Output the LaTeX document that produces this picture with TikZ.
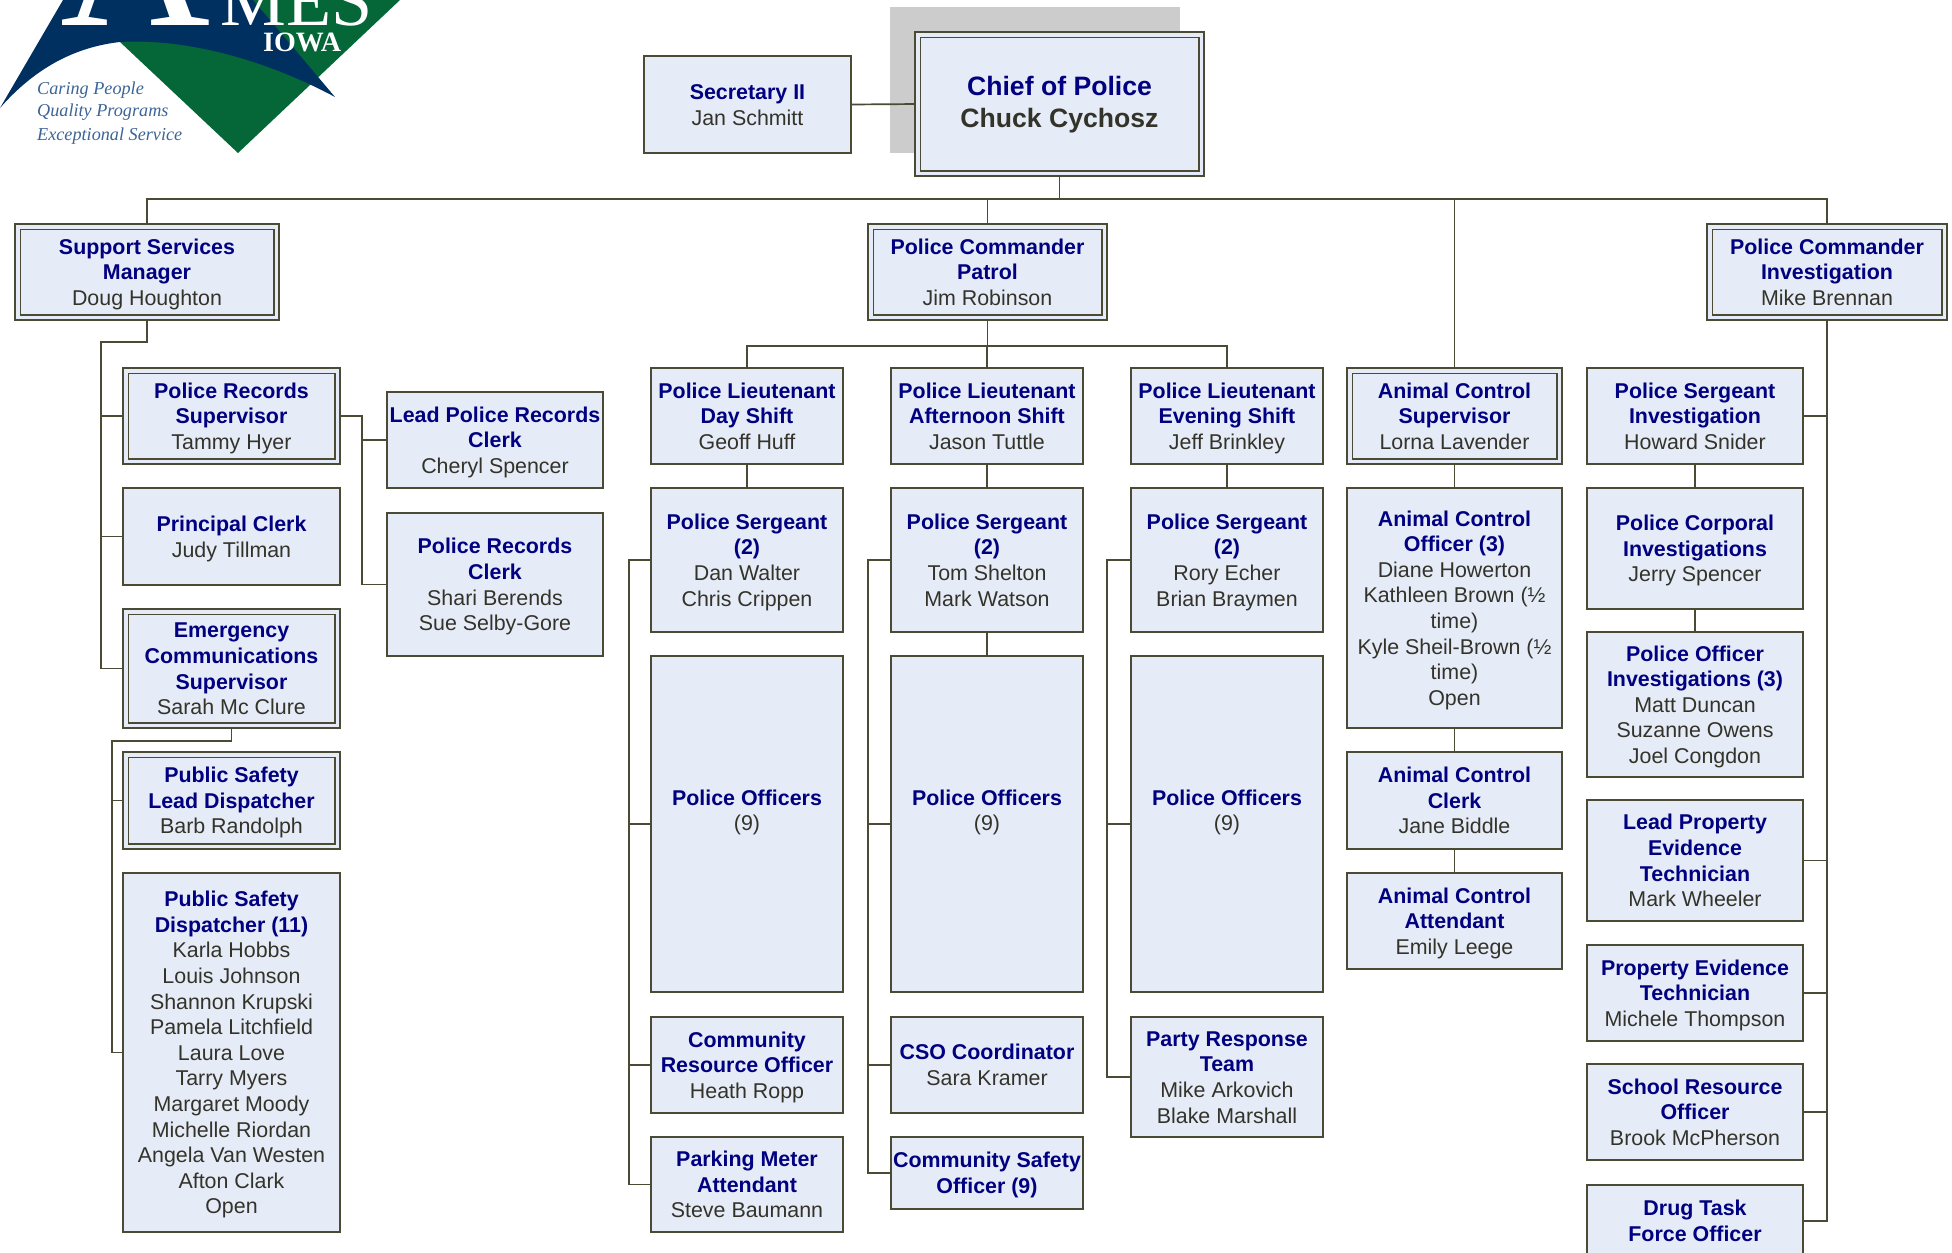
\documentclass[tikz,border=0pt]{standalone}
\usepackage{fontspec}
\setmainfont{Liberation Sans}
\newfontfamily\logofont{Liberation Serif}
\usetikzlibrary{backgrounds}
\definecolor{titlecol}{HTML}{000080}
\definecolor{namecol}{HTML}{33332A}
\definecolor{linecol}{HTML}{4A4A35}
\definecolor{boxfill}{HTML}{E6ECF7}
\definecolor{shadowcol}{HTML}{CCCCCC}
\definecolor{logoblue}{HTML}{003060}
\definecolor{logogreen}{HTML}{056637}
\definecolor{logotext}{HTML}{3C6496}
\newcommand\ti[1]{{\bfseries\color{titlecol}#1}}
\newcommand\topstrut{\rule{0pt}{21pt}}
\newcommand\botstrut{\rule[-5.5pt]{0pt}{1pt}}
\newcommand\chieffont{\fontsize{26.6}{32}\selectfont\bfseries}
\tikzset{
  box/.style={draw=linecol,line width=1.7pt,fill=boxfill,rectangle,inner sep=0pt,outer sep=0pt,
    align=center,text=namecol,font=\fontsize{21.4}{25.6}\selectfont},
  dbl/.style={box,double=boxfill,double distance=3.4pt},
  conn/.style={draw=linecol,line width=1.7pt,line join=miter},
  logotag/.style={anchor=base west,inner sep=0pt,text=logotext,font=\logofont\itshape\fontsize{18.2}{22}\selectfont},
}
\newcommand\orgbox[6]{\node[box,minimum width={(#4-#2)*1pt},minimum height={(#5-#3)*1pt}] (#1) at ({(#2+#4)/2},{(#3+#5)/2}) {\topstrut#6\botstrut};}
\newcommand\dblbox[6]{\node[dbl,minimum width={(#4-#2-5.6)*1pt},minimum height={(#5-#3-5.6)*1pt}] (#1) at ({(#2+#4)/2},{(#3+#5)/2}) {\topstrut#6\botstrut};}
\begin{document}
\begin{tikzpicture}[x=1pt,y=-1pt]
\useasboundingbox (0,0) rectangle (1952,1253);
\clip (0,0) rectangle (1952,1253);
% logo
\fill[logogreen] (120,42) -- (238,153) -- (400,0) -- (253,0) -- cycle;
\fill[logoblue] (0,108) -- (63,0) -- (253,0) -- (335,97)
  .. controls (270,62) and (190,38) .. (120,42)
  .. controls (75,47) and (35,68) .. (0,108) -- cycle;
\node[anchor=base west,inner sep=0pt,text=white,font=\logofont] (logoA) at (60,25) {\fontsize{208}{208}\selectfont A\hspace{10pt}\fontsize{74}{74}\selectfont MES};
\node[anchor=base west,inner sep=0pt,text=white,font=\logofont\bfseries\fontsize{28}{28}\selectfont] (logoI) at (263,51) {IOWA};
\node[logotag] (tag1) at (37,94) {Caring People};
\node[logotag] (tag2) at (37,116) {Quality Programs};
\node[logotag] (tag3) at (37,140) {Exceptional Service};
% boxes
\dblbox{chief}{915}{32}{1204}{176}{\chieffont\ti{Chief of Police}\\[6.4pt]\chieffont Chuck Cychosz}
\orgbox{sec}{644}{56}{851}{153}{\ti{Secretary II}\\Jan Schmitt}
\dblbox{support}{15}{224}{279}{320}{\ti{Support Services}\\\ti{Manager}\\Doug Houghton}
\dblbox{patrol}{868}{224}{1107}{320}{\ti{Police Commander}\\\ti{Patrol}\\Jim Robinson}
\dblbox{invest}{1707}{224}{1947}{320}{\ti{Police Commander}\\\ti{Investigation}\\Mike Brennan}
% support services
\dblbox{recsup}{123}{368}{340}{464}{\ti{Police Records}\\\ti{Supervisor}\\Tammy Hyer}
\orgbox{princ}{123}{488}{340}{585}{\ti{Principal Clerk}\\Judy Tillman}
\dblbox{emerg}{123}{609}{340}{728}{\ti{Emergency}\\\ti{Communications}\\\ti{Supervisor}\\Sarah Mc Clure}
\dblbox{leaddisp}{123}{752}{340}{849}{\ti{Public Safety}\\\ti{Lead Dispatcher}\\Barb Randolph}
\orgbox{disp}{123}{873}{340}{1232}{\ti{Public Safety}\\\ti{Dispatcher (11)}\\Karla Hobbs\\Louis Johnson\\Shannon Krupski\\Pamela Litchfield\\Laura Love\\Tarry Myers\\Margaret Moody\\Michelle Riordan\\Angela Van Westen\\Afton Clark\\Open}
\orgbox{leadrec}{387}{392}{603}{488}{\ti{Lead Police Records}\\\ti{Clerk}\\Cheryl Spencer}
\orgbox{recclerk}{387}{513}{603}{656}{\ti{Police Records}\\\ti{Clerk}\\Shari Berends\\Sue Selby-Gore}
% day shift
\orgbox{ltday}{651}{368}{843}{464}{\ti{Police Lieutenant}\\\ti{Day Shift}\\Geoff Huff}
\orgbox{sgtday}{651}{488}{843}{632}{\ti{Police Sergeant}\\\ti{(2)}\\Dan Walter\\Chris Crippen}
\orgbox{offday}{651}{656}{843}{992}{\ti{Police Officers}\\(9)\\\strut}
\orgbox{comres}{651}{1017}{843}{1113}{\ti{Community}\\\ti{Resource Officer}\\Heath Ropp}
\orgbox{parking}{651}{1137}{843}{1232}{\ti{Parking Meter}\\\ti{Attendant}\\Steve Baumann}
% afternoon shift
\orgbox{ltaft}{891}{368}{1083}{464}{\ti{Police Lieutenant}\\\ti{Afternoon Shift}\\Jason Tuttle}
\orgbox{sgtaft}{891}{488}{1083}{632}{\ti{Police Sergeant}\\\ti{(2)}\\Tom Shelton\\Mark Watson}
\orgbox{offaft}{891}{656}{1083}{992}{\ti{Police Officers}\\(9)\\\strut}
\orgbox{cso}{891}{1017}{1083}{1113}{\ti{CSO Coordinator}\\Sara Kramer}
\orgbox{comsafe}{891}{1137}{1083}{1209}{\ti{Community Safety}\\\ti{Officer (9)}}
% evening shift
\orgbox{lteve}{1131}{368}{1323}{464}{\ti{Police Lieutenant}\\\ti{Evening Shift}\\Jeff Brinkley}
\orgbox{sgteve}{1131}{488}{1323}{632}{\ti{Police Sergeant}\\\ti{(2)}\\Rory Echer\\Brian Braymen}
\orgbox{offeve}{1131}{656}{1323}{992}{\ti{Police Officers}\\(9)\\\strut}
\orgbox{party}{1131}{1017}{1323}{1137}{\ti{Party Response}\\\ti{Team}\\Mike Arkovich\\Blake Marshall}
% animal control
\dblbox{acsup}{1347}{368}{1562}{464}{\ti{Animal Control}\\\ti{Supervisor}\\Lorna Lavender}
\orgbox{acoff}{1347}{488}{1562}{728}{\ti{Animal Control}\\\ti{Officer (3)}\\Diane Howerton\\Kathleen Brown (½\\time)\\Kyle Sheil-Brown (½\\time)\\Open}
\orgbox{acclerk}{1347}{752}{1562}{849}{\ti{Animal Control}\\\ti{Clerk}\\Jane Biddle}
\orgbox{acatt}{1347}{873}{1562}{969}{\ti{Animal Control}\\\ti{Attendant}\\Emily Leege}
% investigation
\orgbox{sgtinv}{1587}{368}{1803}{464}{\ti{Police Sergeant}\\\ti{Investigation}\\Howard Snider}
\orgbox{corp}{1587}{488}{1803}{609}{\ti{Police Corporal}\\\ti{Investigations}\\Jerry Spencer}
\orgbox{poinv}{1587}{632}{1803}{777}{\ti{Police Officer}\\\ti{Investigations (3)}\\Matt Duncan\\Suzanne Owens\\Joel Congdon}
\orgbox{leadprop}{1587}{800}{1803}{921}{\ti{Lead Property}\\\ti{Evidence}\\\ti{Technician}\\Mark Wheeler}
\orgbox{propev}{1587}{945}{1803}{1041}{\ti{Property Evidence}\\\ti{Technician}\\Michele Thompson}
\orgbox{school}{1587}{1064}{1803}{1160}{\ti{School Resource}\\\ti{Officer}\\Brook McPherson}
\orgbox{drug}{1587}{1185}{1803}{1282}{\ti{Drug Task}\\\ti{Force Officer}\\}
% named junctions
\coordinate (busTop) at (1059,199);
\coordinate (supTr) at (101,342);
\coordinate (recTr) at (362,440);
\coordinate (dispTr) at (112,741);
\coordinate (patBus) at (988,346);
\coordinate (dayTr) at (629,560);
\coordinate (aftTr) at (868,560);
\coordinate (eveTr) at (1107,560);
\coordinate (drugJ) at (1803,1221);
\begin{pgfonlayer}{background}
\fill[shadowcol] (890,7) rectangle (1180,153);
\draw[conn] (sec.east) -- (chief.west);
\draw[conn] (chief.south) -- (chief.south |- busTop);
\draw[conn] (support.north) |- (busTop) -| (invest.north);
\draw[conn] (patrol.north) -- (patrol.north |- busTop);
\draw[conn] (acsup.north) -- (acsup.north |- busTop);
% support services
\draw[conn] (support.south) |- (supTr) |- (emerg.west);
\draw[conn] (recsup.west) -- (supTr |- recsup.west);
\draw[conn] (princ.west) -- (supTr |- princ.west);
\draw[conn] (recsup.east) -| (recTr) |- (recclerk.west);
\draw[conn] (leadrec.west) -- (recTr |- leadrec.west);
\draw[conn] (emerg.south) |- (dispTr) |- (disp.west);
\draw[conn] (leaddisp.west) -- (dispTr |- leaddisp.west);
% patrol
\draw[conn] (patrol.south) -- (patrol.south |- patBus);
\draw[conn] (ltday.north) |- (patBus) -| (lteve.north);
\draw[conn] (ltaft.north) -- (ltaft.north |- patBus);
\draw[conn] (ltday.south) -- (sgtday.north);
\draw[conn] (ltaft.south) -- (sgtaft.north);
\draw[conn] (lteve.south) -- (sgteve.north);
\draw[conn] (sgtaft.south) -- (offaft.north);
\draw[conn] (sgtday.west) -| (dayTr) |- (parking.west);
\draw[conn] (offday.west) -- (dayTr |- offday.west);
\draw[conn] (comres.west) -- (dayTr |- comres.west);
\draw[conn] (sgtaft.west) -| (aftTr) |- (comsafe.west);
\draw[conn] (offaft.west) -- (aftTr |- offaft.west);
\draw[conn] (cso.west) -- (aftTr |- cso.west);
\draw[conn] (sgteve.west) -| (eveTr) |- (party.west);
\draw[conn] (offeve.west) -- (eveTr |- offeve.west);
% animal control
\draw[conn] (acsup.south) -- (acoff.north);
\draw[conn] (acoff.south) -- (acclerk.north);
\draw[conn] (acclerk.south) -- (acatt.north);
% investigation
\draw[conn] (invest.south) |- (drugJ);
\draw[conn] (sgtinv.east) -- (invest.south |- sgtinv.east);
\draw[conn] (leadprop.east) -- (invest.south |- leadprop.east);
\draw[conn] (propev.east) -- (invest.south |- propev.east);
\draw[conn] (school.east) -- (invest.south |- school.east);
\draw[conn] (sgtinv.south) -- (corp.north);
\draw[conn] (corp.south) -- (poinv.north);
\end{pgfonlayer}
\end{tikzpicture}
\end{document}
